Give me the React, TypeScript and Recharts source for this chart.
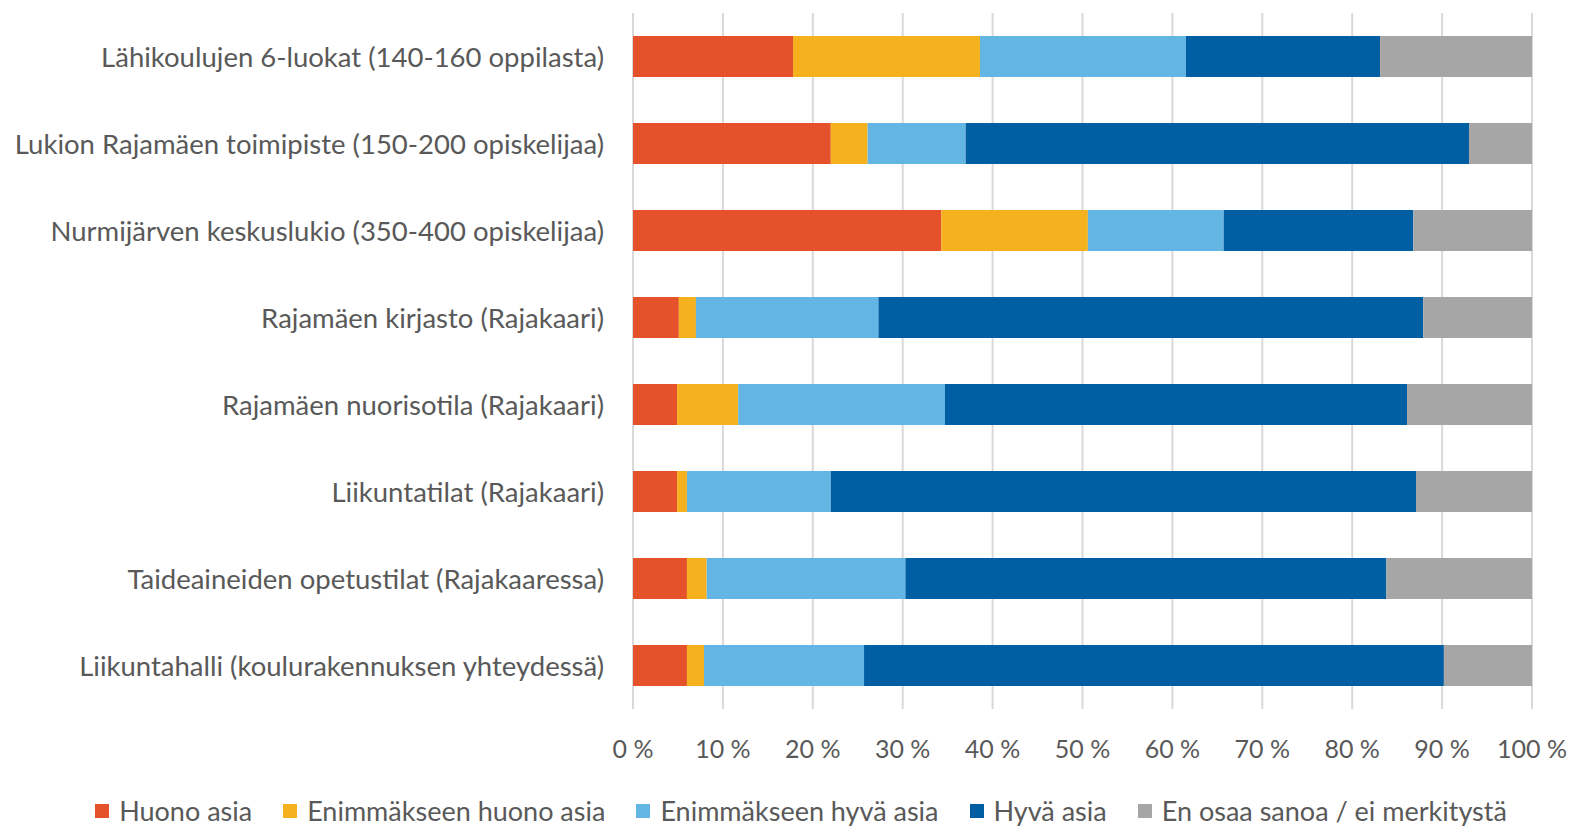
import { BarChart, Bar, XAxis, YAxis, CartesianGrid, Legend } from "recharts";

const categories = [
  "Lähikoulujen 6-luokat (140-160 oppilasta)",
  "Lukion Rajamäen toimipiste (150-200 opiskelijaa)",
  "Nurmijärven keskuslukio (350-400 opiskelijaa)",
  "Rajamäen kirjasto (Rajakaari)",
  "Rajamäen nuorisotila (Rajakaari)",
  "Liikuntatilat (Rajakaari)",
  "Taideaineiden opetustilat (Rajakaaressa)",
  "Liikuntahalli (koulurakennuksen yhteydessä)",
];

const huono = [17.8, 22.0, 34.3, 5.1, 4.9, 4.9, 6.0, 6.0];
const enimHuono = [20.8, 4.1, 16.3, 1.9, 6.8, 1.1, 2.2, 1.9];
const enimHyva = [22.9, 10.9, 15.1, 20.3, 23.0, 16.0, 22.1, 17.8];
const hyva = [21.6, 56.0, 21.1, 60.6, 51.4, 65.1, 53.5, 64.5];
const eiOsaa = [16.9, 7.0, 13.2, 12.1, 13.9, 12.9, 16.2, 9.8];

const xTicks = [0, 10, 20, 30, 40, 50, 60, 70, 80, 90, 100];

const series = [
  { key: "huono", name: "Huono asia", color: "#E5512A" },
  { key: "enimHuono", name: "Enimmäkseen huono asia", color: "#F5B11E" },
  { key: "enimHyva", name: "Enimmäkseen hyvä asia", color: "#63B6E4" },
  { key: "hyva", name: "Hyvä asia", color: "#005EA2" },
  { key: "eiOsaa", name: "En osaa sanoa / ei merkitystä", color: "#A6A6A6" },
];

const data = categories.map((name, i) => ({
  name,
  huono: huono[i],
  enimHuono: enimHuono[i],
  enimHyva: enimHyva[i],
  hyva: hyva[i],
  eiOsaa: eiOsaa[i],
}));

const FONT = "Lato, 'Open Sans', sans-serif";
const TEXT = "#595959";

const YTick = ({ x, y, payload }: any) => (
  <text x={x} y={y} textAnchor="end" dominantBaseline="central" fill={TEXT} fontFamily={FONT} fontSize={27.5}>
    {payload.value}
  </text>
);

const XTick = ({ x, y, payload }: any) => (
  <text x={x} y={y + 31} textAnchor="middle" dominantBaseline="central" fill={TEXT} fontFamily={FONT} fontSize={25}>
    {`${payload.value} %`}
  </text>
);

const LegendContent = () => (
  <div style={{ display: "flex", justifyContent: "center", fontFamily: FONT, fontSize: 27, color: TEXT, lineHeight: "32px", paddingLeft: 27 }}>
    {series.map((s, i) => (
      <span key={s.key} style={{ display: "inline-flex", alignItems: "center", marginRight: i < series.length - 1 ? 31 : 0 }}>
        <span style={{ width: 14, height: 14, background: s.color, display: "inline-block", marginRight: 10 }} />
        {s.name}
      </span>
    ))}
  </div>
);

export default function App() {
  return (
    <div style={{ position: "absolute", left: 0, top: 0, width: 1575, height: 827, background: "#fff" }}>
      <BarChart
        width={1575}
        height={827}
        data={data}
        layout="vertical"
        barCategoryGap={23}
        margin={{ top: 13, right: 43, left: 0, bottom: 0 }}
      >
        <CartesianGrid horizontal={false} stroke="#D9D9D9" strokeWidth={2} />
        <XAxis
          type="number"
          domain={[0, 100]}
          ticks={xTicks}
          allowDataOverflow
          axisLine={false}
          tickLine={false}
          tick={<XTick />}
          height={60}
        />
        <YAxis
          type="category"
          dataKey="name"
          width={633}
          axisLine={false}
          tickLine={false}
          tickSize={0}
          tickMargin={29}
          tick={<YTick />}
        />
        <Legend
          verticalAlign="bottom"
          height={58}
          content={<LegendContent />}
          wrapperStyle={{ top: 795, bottom: "auto", left: 0, width: 1575 }}
        />
        {series.map((s) => (
          <Bar key={s.key} dataKey={s.key} name={s.name} stackId="a" fill={s.color} isAnimationActive={false} />
        ))}
      </BarChart>
    </div>
  );
}
